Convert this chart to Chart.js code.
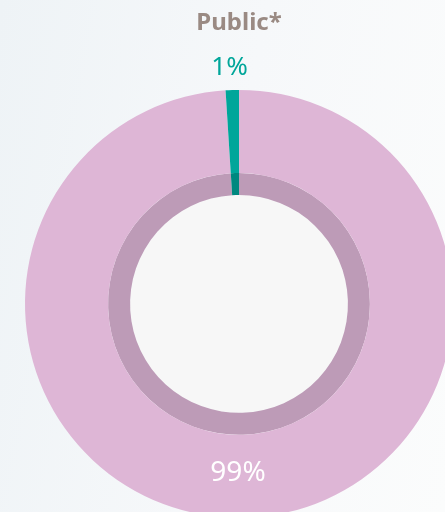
<!DOCTYPE html>
<html>
<head>
<meta charset="utf-8">
<script src="https://cdn.jsdelivr.net/npm/chart.js@4/dist/chart.umd.min.js"></script>
<style>
  html, body { margin: 0; padding: 0; overflow: hidden; width: 445px; height: 512px; }
  body { background: linear-gradient(100deg, #eef3f6 0%, #f6f8fa 50%, #fbfcfc 100%); }
  #wrap { position: absolute; left: 0; top: 0; width: 470px; height: 530px; }
</style>
</head>
<body>
<div id="wrap"><canvas id="c" width="470" height="530"></canvas></div>
<script>
const chartTitle = 'Public*';
const categories = ['Other', 'Public'];
const values = [99, 1];
const valueLabels = ['99%', '1%'];

const outerColors = ['#deb6d6', '#00a69a'];
const innerColors = ['#bd9bb7', '#00887f'];

const centerFill = {
  id: 'centerFill',
  beforeDatasetsDraw(chart) {
    const meta = chart.getDatasetMeta(1);
    const arc = meta.data[0];
    if (!arc) return;
    const ctx = chart.ctx;
    ctx.save();
    ctx.beginPath();
    ctx.arc(arc.x, arc.y, arc.innerRadius, 0, Math.PI * 2);
    ctx.fillStyle = '#f7f7f7';
    ctx.fill();
    ctx.restore();
  }
};

const sliceLabels = {
  id: 'sliceLabels',
  afterDatasetsDraw(chart) {
    const meta = chart.getDatasetMeta(0);
    const ctx = chart.ctx;
    ctx.save();
    ctx.textAlign = 'center';
    ctx.textBaseline = 'middle';
    meta.data.forEach((arc, i) => {
      const small = values[i] < 5;
      let x, y;
      if (small) {
        const mid = (arc.startAngle + arc.endAngle) / 2;
        const r = arc.outerRadius + 22;
        x = arc.x + Math.cos(mid) * r - 2;
        y = arc.y + Math.sin(mid) * r;
      } else {
        const r = (arc.outerRadius + chart.getDatasetMeta(1).data[i].outerRadius) / 2 - 3;
        x = arc.x - 1;
        y = arc.y + r;
      }
      ctx.fillStyle = small ? outerColors[i] : '#ffffff';
      ctx.font = small ? '400 26px "Noto Sans"' : '400 28px "Noto Sans"';
      ctx.fillText(valueLabels[i], x, y);
    });
    ctx.restore();
  }
};

new Chart(document.getElementById('c'), {
  type: 'doughnut',
  data: {
    labels: categories,
    datasets: [
      { data: values, backgroundColor: outerColors, borderWidth: 0, weight: 83 },
      { data: values, backgroundColor: innerColors, borderWidth: 0, weight: 22 }
    ]
  },
  options: {
    responsive: false,
    animation: false,
    cutout: '50.9%',
    layout: { padding: { left: 25, right: 17, top: 0, bottom: 12 } },
    plugins: {
      legend: { display: false },
      tooltip: { enabled: false },
      title: {
        display: true,
        text: chartTitle,
        color: '#9a8a83',
        font: { family: 'Noto Sans', size: 24, weight: 'bold' },
        padding: { top: 9, bottom: 52 }
      }
    }
  },
  plugins: [centerFill, sliceLabels]
});
</script>
</body>
</html>
